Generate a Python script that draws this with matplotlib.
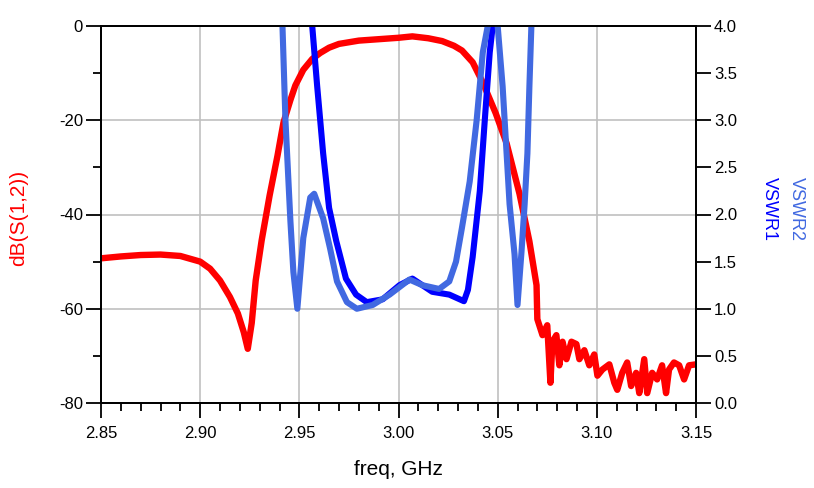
import matplotlib
matplotlib.use('Agg')
import matplotlib.pyplot as plt
from matplotlib.ticker import MultipleLocator

plt.rcParams['font.family'] = ['Liberation Sans', 'DejaVu Sans']
plt.rcParams['axes.unicode_minus'] = False

# dB(S(1,2))
f_s12 = [2.850, 2.860, 2.870, 2.880, 2.890, 2.900, 2.905, 2.910, 2.915, 2.919,
         2.922, 2.924, 2.926, 2.928, 2.931, 2.935, 2.939, 2.9404, 2.942, 2.9455,
         2.948, 2.952, 2.9565, 2.9606, 2.965, 2.970, 2.980, 2.990, 3.000, 3.007,
         3.015, 3.022, 3.028, 3.032, 3.0374, 3.0425, 3.049, 3.0545, 3.061, 3.066,
         3.0696, 3.070, 3.0726, 3.075, 3.0766, 3.0776, 3.0796, 3.0811, 3.0827, 3.0847,
         3.0872, 3.0897, 3.0912, 3.0937, 3.0962, 3.0987, 3.1003, 3.1028, 3.1063, 3.1088,
         3.1103, 3.1128, 3.1153, 3.1173, 3.1198, 3.1214, 3.1239, 3.1254, 3.1279, 3.1304,
         3.1329, 3.1349, 3.1364, 3.1389, 3.1415, 3.144, 3.1465, 3.150]
s12_db = [-49.3, -48.9, -48.6, -48.5, -48.8, -50.0, -51.5, -54.0, -57.5, -61.0,
          -65.0, -68.5, -63.0, -54.0, -45.5, -36.0, -27.5, -24.2, -20.5, -15.7,
          -12.6, -9.3, -7.0, -5.7, -4.6, -3.8, -3.1, -2.8, -2.5, -2.2,
          -2.6, -3.2, -4.2, -5.2, -7.7, -12.0, -18.5, -24.9, -35.6, -45.7,
          -55.0, -62.2, -65.6, -63.5, -75.7, -67.0, -65.6, -72.0, -67.0, -70.7,
          -67.0, -67.5, -70.7, -68.8, -72.0, -69.7, -74.2, -72.9, -71.8, -75.7,
          -77.2, -73.6, -71.4, -76.4, -73.6, -77.9, -70.7, -77.9, -73.6, -75.0,
          -72.0, -77.9, -72.9, -71.4, -72.0, -75.0, -72.0, -71.8]

# VSWR1 (dark blue)
f_v1 = [2.955, 2.9565, 2.959, 2.962, 2.965, 2.9686, 2.9735, 2.9786, 2.984, 2.992,
        3.0005, 3.007, 3.017, 3.0256, 3.033, 3.035, 3.0374, 3.041, 3.0435, 3.046,
        3.0475, 3.049]
vswr1 = [5.0, 4.0, 3.36, 2.65, 2.07, 1.72, 1.32, 1.15, 1.07, 1.10,
         1.25, 1.32, 1.18, 1.15, 1.08, 1.20, 1.55, 2.25, 3.0, 3.72,
         4.0, 5.0]

# VSWR2 (light blue)
f_v2 = [2.940, 2.9415, 2.943, 2.9455, 2.947, 2.949, 2.952, 2.9555, 2.9575, 2.962,
        2.9655, 2.969, 2.974, 2.979, 2.987, 2.9955, 3.0055, 3.012, 3.0205, 3.0256,
        3.029, 3.032, 3.0359, 3.0394, 3.0425, 3.045, 3.0475, 3.050, 3.0525, 3.0545,
        3.056, 3.0585, 3.060, 3.062, 3.0636, 3.065, 3.066, 3.067, 3.068]
vswr2 = [5.0, 4.0, 3.0, 1.93, 1.39, 1.0, 1.75, 2.18, 2.22, 1.96,
         1.64, 1.29, 1.07, 1.0, 1.04, 1.15, 1.31, 1.25, 1.21, 1.29,
         1.50, 1.86, 2.35, 3.0, 3.72, 4.0, 5.5, 4.0, 3.36, 2.65,
         2.11, 1.58, 1.04, 1.60, 2.11, 2.65, 3.36, 4.0, 5.0]

x_ticks = [2.85, 2.90, 2.95, 3.00, 3.05, 3.10, 3.15]
vswr_ticks = [0, 0.5, 1, 1.5, 2, 2.5, 3, 3.5, 4]

fig = plt.figure(figsize=(8.14, 4.88), dpi=100)
ax = fig.add_axes([101/814, 85/488, 595/814, 377/488])
ax2 = ax.twinx()

ax.plot(f_s12, s12_db, color='#FF0000', lw=4.6)
ax2.plot(f_v1, vswr1, color='#0000FF', lw=4.4)
ax2.plot(f_v2, vswr2, color='#4169E1', lw=4.4)

ax.set_xlim(2.85, 3.15)
ax.set_ylim(-80, 0)
ax2.set_ylim(0, 4)

ax.set_xticks(x_ticks)
ax.set_xticklabels(['%.2f' % v for v in x_ticks])
ax.xaxis.set_minor_locator(MultipleLocator(0.01))
ax.yaxis.set_major_locator(MultipleLocator(20))
ax.yaxis.set_minor_locator(MultipleLocator(10))
ax2.set_yticks(vswr_ticks)
ax2.set_yticklabels(['%.1f' % v for v in vswr_ticks])

ax.grid(True, which='major', color='#C0C0C0', lw=1.2)
ax.tick_params(which='major', direction='out', length=11, width=1.3, labelsize=12, pad=2)
ax.tick_params(axis='x', which='major', pad=5.5)
ax.tick_params(which='minor', direction='out', length=5.5, width=1.3)
ax2.tick_params(which='major', direction='out', length=11, width=1.3, labelsize=12, pad=2)
for sp in list(ax.spines.values()) + list(ax2.spines.values()):
    sp.set_linewidth(1.3)

ax.set_xlabel('freq, GHz', fontsize=15)
ax.xaxis.set_label_coords(0.5, -0.15)
ax.set_ylabel('dB(S(1,2))', color='#FF0000', fontsize=15)
ax.yaxis.set_label_coords(-0.122, 0.49)
ax2.text(1.123, 0.515, 'VSWR1', color='#0000FF', fontsize=13, rotation=-90,
         ha='center', va='center', transform=ax2.transAxes)
ax2.text(1.168, 0.515, 'VSWR2', color='#4169E1', fontsize=13, rotation=-90,
         ha='center', va='center', transform=ax2.transAxes)

fig.savefig('out.png', dpi=100)
